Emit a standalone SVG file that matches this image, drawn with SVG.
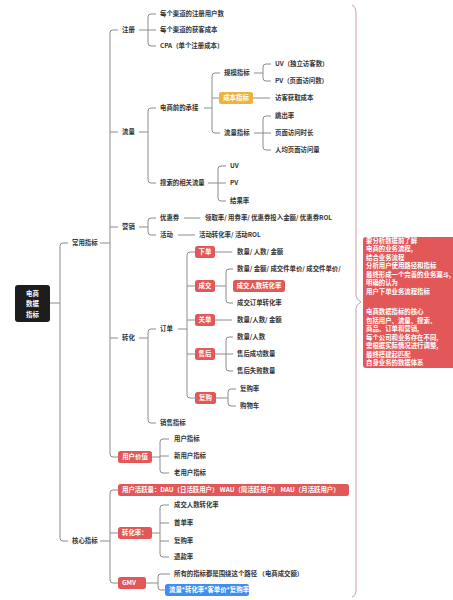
<svg xmlns="http://www.w3.org/2000/svg" width="453" height="600" viewBox="0 0 453 600">
<defs>
<style>
.t{font-family:"Noto Sans CJK SC","Liberation Sans",sans-serif;font-size:6.4px;fill:#333333;font-weight:bold;}
.w{font-family:"Noto Sans CJK SC","Liberation Sans",sans-serif;font-size:6.4px;fill:#ffffff;font-weight:bold;}
.c{fill:none;stroke:#8c8c8c;stroke-width:1;}
.red{fill:#e25858;}
.brace{fill:none;stroke:#c9a0a2;stroke-width:1;}
</style>
</defs>
<rect width="453" height="600" fill="#ffffff"/>
<g id="connectors">
<path class="c" d="M50 303 H60 M68 243 H63 Q60 243 60 246 V538 Q60 541 63 541 H68"/>
<path class="c" d="M100 243 H110 M118 30 H113 Q110 30 110 33 V454 Q110 457 113 457 H118 M110 132 H118 M110 227 H118 M110 338 H118"/>
<path class="c" d="M139 30 H148 M156 14 H151 Q148 14 148 17 V43 Q148 46 151 46 H156 M148 30 H156"/>
<path class="c" d="M139 132 H148 M156 108 H151 Q148 108 148 111 V180 Q148 183 151 183 H156"/>
<path class="c" d="M204 108 H212 M220 73 H215 Q212 73 212 76 V130 Q212 133 215 133 H220 M212 98 H219"/>
<path class="c" d="M254 73 H263 M271 64 H266 Q263 64 263 67 V78 Q263 81 266 81 H271"/>
<path class="c" d="M253 98 H270"/>
<path class="c" d="M254 133 H263 M271 116 H266 Q263 116 263 119 V147 Q263 150 266 150 H271 M263 133 H271"/>
<path class="c" d="M208 183 H218 M226 166 H221 Q218 166 218 169 V198 Q218 201 221 201 H226 M218 183 H226"/>
<path class="c" d="M139 227 H148 M156 218 H151 Q148 218 148 221 V232 Q148 235 151 235 H156"/>
<path class="c" d="M184 218 H200 M178 235 H195"/>
<path class="c" d="M139 338 H148 M156 329 H151 Q148 329 148 332 V420 Q148 423 151 423 H156"/>
<path class="c" d="M178 329 H187 M195 252 H190 Q187 252 187 255 V395 Q187 398 190 398 H195 M187 286 H195 M187 320 H195 M187 354 H195"/>
<path class="c" d="M215 252 H232 M215 320 H232"/>
<path class="c" d="M215 286 H226 M233 269 H229 Q226 269 226 272 V300 Q226 303 229 303 H233"/>
<path class="c" d="M215 354 H226 M233 337 H229 Q226 337 226 340 V368 Q226 371 229 371 H233 M226 354 H233"/>
<path class="c" d="M216 398 H228 M236 389 H231 Q228 389 228 392 V403 Q228 406 231 406 H236"/>
<path class="c" d="M152 457 H160 M169 439 H163 Q160 439 160 442 V470 Q160 473 163 473 H169 M160 456 H169"/>
<path class="c" d="M100 541 H110 M118 490 H113 Q110 490 110 493 V580 Q110 583 113 583 H118 M110 533 H118"/>
<path class="c" d="M152 533 H160 M169 505 H163 Q160 505 160 508 V554 Q160 557 163 557 H169 M160 523 H169 M160 541 H169"/>
<path class="c" d="M146 583 H158 M170 574 H161 Q158 574 158 577 V587 Q158 590 161 590 H165"/>
</g>
<g id="brace">
<path class="brace" d="M352 5 Q356 6 356 14 V296 Q356 299 361 302 Q356 305 356 308 V589 Q356 596 352 597"/>
</g>
<g id="root">
<rect x="15" y="285" width="35" height="37" rx="3" fill="#1d1d1d"/>
<text class="w" x="32.5" y="295.5" text-anchor="middle" font-size="7.4">电商</text>
<text class="w" x="32.5" y="306" text-anchor="middle" font-size="7.4">数据</text>
<text class="w" x="32.5" y="316.5" text-anchor="middle" font-size="7.4">指标</text>
</g>
<g id="n-changyong"><text class="t" x="72" y="245.3">常用指标</text></g>
<g id="n-hexin"><text class="t" x="72" y="543.3">核心指标</text></g>
<g id="n-zhuce"><text class="t" x="122" y="32.3">注册</text></g>
<g id="n-zhuce-1"><text class="t" x="160" y="16.3">每个渠道的注册用户数</text></g>
<g id="n-zhuce-2"><text class="t" x="160" y="32.3">每个渠道的获客成本</text></g>
<g id="n-zhuce-3"><text class="t" x="160" y="48.3">CPA（单个注册成本）</text></g>
<g id="n-liuliang"><text class="t" x="122" y="134.3">流量</text></g>
<g id="n-chengjie"><text class="t" x="160" y="110.3">电商前的承接</text></g>
<g id="n-guimo"><text class="t" x="224" y="75.3">规模指标</text></g>
<g id="n-uv1"><text class="t" x="275" y="66.3">UV（独立访客数）</text></g>
<g id="n-pv1"><text class="t" x="275" y="83.3">PV（页面访问数）</text></g>
<g id="n-chengben"><rect x="219" y="92" width="34" height="12" rx="2.5" fill="#f0b23e"/><text class="w" x="236" y="100.3" text-anchor="middle">成本指标</text></g>
<g id="n-fangke"><text class="t" x="275" y="100.3">访客获取成本</text></g>
<g id="n-llzb"><text class="t" x="224" y="135.3">流量指标</text></g>
<g id="n-tiaochu"><text class="t" x="275" y="118.3">跳出率</text></g>
<g id="n-shichang"><text class="t" x="275" y="135.3">页面访问时长</text></g>
<g id="n-renjun"><text class="t" x="275" y="152.3">人均页面访问量</text></g>
<g id="n-sousuo"><text class="t" x="160" y="185.3">搜索的相关流量</text></g>
<g id="n-uv2"><text class="t" x="230" y="168.3">UV</text></g>
<g id="n-pv2"><text class="t" x="230" y="185.3">PV</text></g>
<g id="n-jieguo"><text class="t" x="230" y="203.3">结果率</text></g>
<g id="n-yingxiao"><text class="t" x="122" y="229.3">营销</text></g>
<g id="n-youhui"><text class="t" x="160" y="220.3">优惠券</text></g>
<g id="n-youhui-1"><text class="t" x="205" y="220.3">领取率/ 用券率/ 优惠券投入金额/ 优惠券ROL</text></g>
<g id="n-huodong"><text class="t" x="160" y="237.3">活动</text></g>
<g id="n-huodong-1"><text class="t" x="199" y="237.3">活动转化率/ 活动ROL</text></g>
<g id="n-zhuanhua"><text class="t" x="122" y="340.3">转化</text></g>
<g id="n-dingdan"><text class="t" x="160" y="331.3">订单</text></g>
<g id="n-xiadan"><rect class="red" x="195" y="246" width="20" height="12" rx="2.5"/><text class="w" x="205" y="254.3" text-anchor="middle">下单</text></g>
<g id="n-xiadan-1"><text class="t" x="237" y="254.3">数量/ 人数/  金额</text></g>
<g id="n-chengjiao"><rect class="red" x="195" y="280" width="20" height="12" rx="2.5"/><text class="w" x="205" y="288.3" text-anchor="middle">成交</text></g>
<g id="n-chengjiao-1"><text class="t" x="237" y="271.3">数量/ 金额/ 成交件单价/ 成交件单价/</text></g>
<g id="n-chengjiao-2"><rect class="red" x="233" y="280" width="52" height="12" rx="2.5"/><text class="w" x="259" y="288.3" text-anchor="middle">成交人数转化率</text></g>
<g id="n-chengjiao-3"><text class="t" x="237" y="305.3">成交订单转化率</text></g>
<g id="n-guandan"><rect class="red" x="195" y="314" width="20" height="12" rx="2.5"/><text class="w" x="205" y="322.3" text-anchor="middle">关单</text></g>
<g id="n-guandan-1"><text class="t" x="237" y="322.3">数量/人数/ 金额</text></g>
<g id="n-shouhou"><rect class="red" x="195" y="348" width="20" height="12" rx="2.5"/><text class="w" x="205" y="356.3" text-anchor="middle">售后</text></g>
<g id="n-shouhou-1"><text class="t" x="237" y="339.3">数量/人数</text></g>
<g id="n-shouhou-2"><text class="t" x="237" y="356.3">售后成功数量</text></g>
<g id="n-shouhou-3"><text class="t" x="237" y="373.3">售后失败数量</text></g>
<g id="n-fugou"><rect class="red" x="195" y="392" width="21" height="12" rx="2.5"/><text class="w" x="205.5" y="400.3" text-anchor="middle">复购</text></g>
<g id="n-fugou-1"><text class="t" x="240" y="391.3">复购率</text></g>
<g id="n-fugou-2"><text class="t" x="240" y="408.3">购物车</text></g>
<g id="n-xiaoshou"><text class="t" x="160" y="425.3">销售指标</text></g>
<g id="n-yonghujiazhi"><rect class="red" x="118" y="451" width="34" height="12" rx="2.5"/><text class="w" x="135" y="459.3" text-anchor="middle">用户价值</text></g>
<g id="n-yh-1"><text class="t" x="174" y="441.3">用户指标</text></g>
<g id="n-yh-2"><text class="t" x="174" y="458.3">新用户指标</text></g>
<g id="n-yh-3"><text class="t" x="174" y="475.3">老用户指标</text></g>
<g id="n-huoyue"><rect class="red" x="118" y="484" width="231" height="12" rx="2.5"/><text class="w" x="122" y="492.3">用户活跃量：DAU（日活跃用户）  WAU（周活跃用户）  MAU（月活跃用户）</text></g>
<g id="n-zhuanhualv"><rect class="red" x="118" y="527" width="34" height="12" rx="2.5"/><text class="w" x="122" y="535.3">转化率：</text></g>
<g id="n-zh-1"><text class="t" x="174" y="507.3">成交人数转化率</text></g>
<g id="n-zh-2"><text class="t" x="174" y="525.3">首单率</text></g>
<g id="n-zh-3"><text class="t" x="174" y="543.3">复购率</text></g>
<g id="n-zh-4"><text class="t" x="174" y="559.3">退款率</text></g>
<g id="n-gmv"><rect class="red" x="118" y="577" width="28" height="12" rx="2.5"/><text class="w" x="122" y="585.3">GMV</text></g>
<g id="n-gmv-1"><text class="t" x="174" y="576.3">所有的指标都是围绕这个路径 （电商成交额）</text></g>
<g id="n-gmv-2"><rect x="165" y="584" width="84" height="12" rx="2.5" fill="#3f8ef0"/><text class="w" x="169" y="592.3">流量*转化率*客单价*复购率</text></g>
<g id="summary">
<rect class="red" x="363" y="237" width="92" height="131" rx="3"/>
<text class="w" x="366" y="242.5">要分析数据前了解</text>
<text class="w" x="366" y="251">电商的业务流程,</text>
<text class="w" x="366" y="259.5">结合业务流程</text>
<text class="w" x="366" y="268">分析用户使用路径和指标</text>
<text class="w" x="366" y="276.5">最终形成一个完善的业务漏斗,</text>
<text class="w" x="366" y="285">明确的认为</text>
<text class="w" x="366" y="293.5">用户下单业务流程指标</text>
<text class="w" x="366" y="314">电商数据指标的核心</text>
<text class="w" x="366" y="322.5">包括用户、流量、搜索、</text>
<text class="w" x="366" y="331">商品、订单和营销,</text>
<text class="w" x="366" y="339.5">每个公司和业务存在不同,</text>
<text class="w" x="366" y="348">需根据实际情况进行调整,</text>
<text class="w" x="366" y="356.5">最终搭建起匹配</text>
<text class="w" x="366" y="365">自身业务的数据体系</text>
</g>
</svg>
